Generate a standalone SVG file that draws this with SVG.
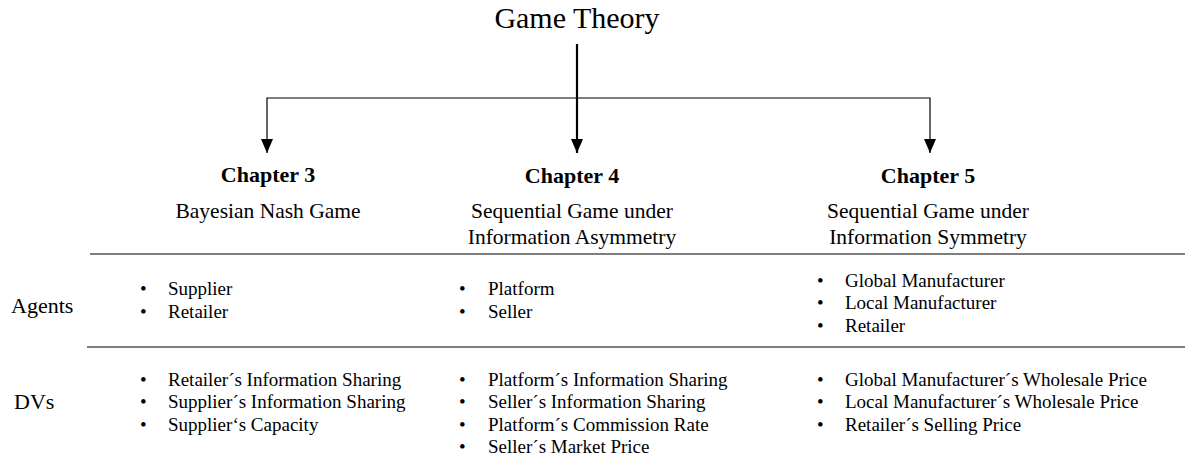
<svg xmlns="http://www.w3.org/2000/svg" width="1185" height="464" viewBox="0 0 1185 464">
<style>
text{font-family:"Liberation Serif","Times New Roman",serif;fill:#000}
.title{font-size:30px}
.ch{font-size:22px;font-weight:bold;text-anchor:middle}
.sub{font-size:21.5px;text-anchor:middle}
.lab{font-size:22px}
.it{font-size:19px}
.rule{stroke:#000;stroke-width:1.2}
.conn{stroke:#000;fill:none}
</style>
<defs>
<marker id="ah" markerWidth="14" markerHeight="12" refX="14" refY="6" orient="auto" markerUnits="userSpaceOnUse" viewBox="0 0 14 12">
<path d="M0,0 L14,6 L0,12 Z" fill="#000"/>
</marker>
</defs>
<g id="root"><text class="title" x="577" y="28" text-anchor="middle">Game Theory</text></g>
<g id="connectors">
<path class="conn" stroke-width="2.2" d="M577,44 V153" marker-end="url(#ah)"/>
<path class="conn" stroke-width="1.2" d="M577,98 H267 V153" marker-end="url(#ah)"/>
<path class="conn" stroke-width="1.2" d="M577,98 H930 V153" marker-end="url(#ah)"/>
</g>
<g id="chapter3">
<text class="ch" x="268" y="182">Chapter 3</text>
<text class="sub" x="268" y="218">Bayesian Nash Game</text>
</g>
<g id="chapter4">
<text class="ch" x="572" y="183">Chapter 4</text>
<text class="sub" x="572" y="218">Sequential Game under</text>
<text class="sub" x="572" y="244">Information Asymmetry</text>
</g>
<g id="chapter5">
<text class="ch" x="928" y="183">Chapter 5</text>
<text class="sub" x="928" y="218">Sequential Game under</text>
<text class="sub" x="928" y="244">Information Symmetry</text>
</g>
<g id="rules">
<line class="rule" x1="90" y1="254" x2="1185" y2="254"/>
<line class="rule" x1="87" y1="347" x2="1185" y2="347"/>
</g>
<g id="agents-label"><text class="lab" x="11" y="313">Agents</text></g>
<g id="dvs-label"><text class="lab" x="14" y="409">DVs</text></g>
<g id="agents-ch3">
<text class="it" x="140" y="295">•</text><text class="it" x="168" y="295">Supplier</text>
<text class="it" x="140" y="318">•</text><text class="it" x="168" y="318">Retailer</text>
</g>
<g id="agents-ch4">
<text class="it" x="459" y="295">•</text><text class="it" x="488" y="295">Platform</text>
<text class="it" x="459" y="318">•</text><text class="it" x="488" y="318">Seller</text>
</g>
<g id="agents-ch5">
<text class="it" x="817" y="287">•</text><text class="it" x="845" y="287">Global Manufacturer</text>
<text class="it" x="817" y="309">•</text><text class="it" x="845" y="309">Local Manufacturer</text>
<text class="it" x="817" y="332">•</text><text class="it" x="845" y="332">Retailer</text>
</g>
<g id="dvs-ch3">
<text class="it" x="140" y="386">•</text><text class="it" x="168" y="386">Retailer´s Information Sharing</text>
<text class="it" x="140" y="408">•</text><text class="it" x="168" y="408">Supplier´s Information Sharing</text>
<text class="it" x="140" y="431">•</text><text class="it" x="168" y="431">Supplier‘s Capacity</text>
</g>
<g id="dvs-ch4">
<text class="it" x="459" y="386">•</text><text class="it" x="488" y="386">Platform´s Information Sharing</text>
<text class="it" x="459" y="408">•</text><text class="it" x="488" y="408">Seller´s Information Sharing</text>
<text class="it" x="459" y="431">•</text><text class="it" x="488" y="431">Platform´s Commission Rate</text>
<text class="it" x="459" y="453">•</text><text class="it" x="488" y="453">Seller´s Market Price</text>
</g>
<g id="dvs-ch5">
<text class="it" x="817" y="386">•</text><text class="it" x="845" y="386">Global Manufacturer´s Wholesale Price</text>
<text class="it" x="817" y="408">•</text><text class="it" x="845" y="408">Local Manufacturer´s Wholesale Price</text>
<text class="it" x="817" y="431">•</text><text class="it" x="845" y="431">Retailer´s Selling Price</text>
</g>
</svg>
